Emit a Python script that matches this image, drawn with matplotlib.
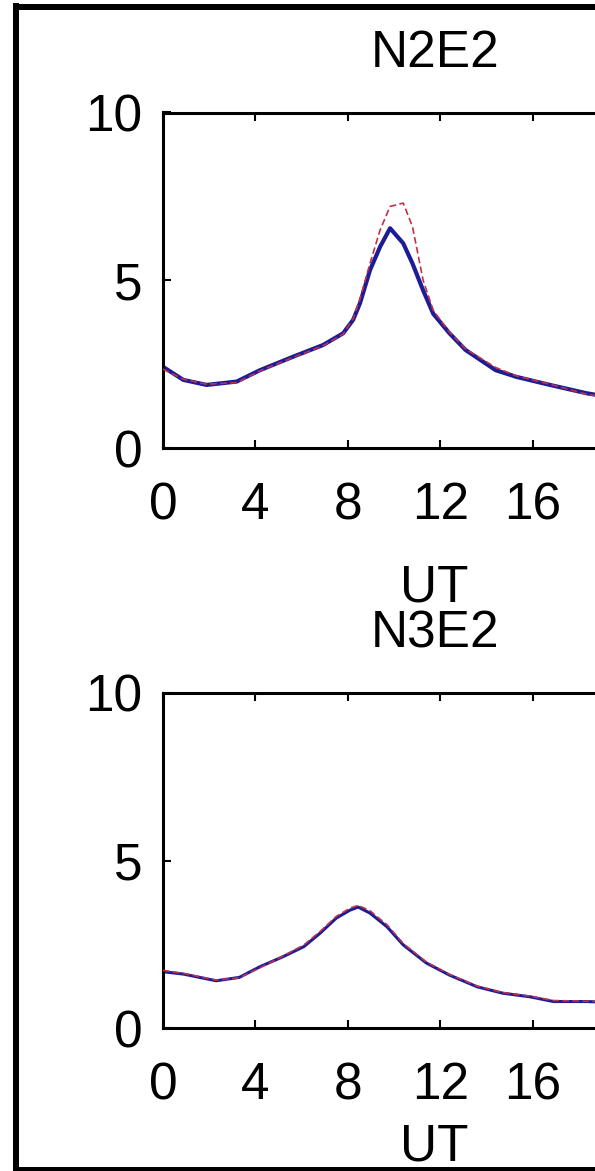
import matplotlib
matplotlib.use("Agg")
import matplotlib.pyplot as plt
from matplotlib.lines import Line2D

plt.rcParams['font.family'] = ['Liberation Sans', 'DejaVu Sans']

# ============== data ==============
# N2E2
ut_n2 = [0, 0.88, 1.89, 3.19, 4.2, 5.63, 6.93, 7.8, 8.23, 8.53, 8.96, 9.4,
         9.83, 10.4, 10.8, 11.26, 11.7, 12.4, 13.1, 14.4, 15.3, 16.75, 18.35, 19.5]
blue_n2 = [2.42, 2.03, 1.88, 1.98, 2.32, 2.72, 3.07, 3.42, 3.82, 4.32, 5.3, 6.0,
           6.55, 6.1, 5.5, 4.7, 4.0, 3.42, 2.92, 2.32, 2.12, 1.88, 1.63, 1.5]
red_n2 = [2.35, 2.05, 1.9, 1.95, 2.3, 2.7, 3.05, 3.4, 3.85, 4.45, 5.5, 6.5,
          7.2, 7.3, 6.6, 5.0, 4.1, 3.45, 2.95, 2.4, 2.15, 1.9, 1.6, 1.48]

# N3E2
ut_n3 = [0, 0.88, 2.3, 3.3, 4.2, 5.2, 6.1, 6.8, 7.5, 8.1, 8.45, 8.96, 9.7,
         10.4, 11.4, 12.4, 13.6, 14.7, 15.9, 16.9, 18.35, 19.5]
blue_n3 = [1.68, 1.61, 1.41, 1.51, 1.83, 2.13, 2.43, 2.83, 3.28, 3.52, 3.61, 3.43,
           3.02, 2.48, 1.94, 1.58, 1.23, 1.04, 0.93, 0.79, 0.79, 0.76]
red_n3 = [1.72, 1.63, 1.43, 1.5, 1.8, 2.15, 2.48, 2.88, 3.33, 3.58, 3.66, 3.5,
          3.08, 2.52, 1.97, 1.6, 1.25, 1.06, 0.95, 0.82, 0.8, 0.77]

xticks = [0, 4, 8, 12, 16]   # 20 and 24 fall outside the cropped picture
yticks = [0, 5, 10]
# =======================================================

W, H = 595, 1171
fig = plt.figure(figsize=(W / 100, H / 100), dpi=100)
fig.patch.set_facecolor('white')

FS = 37


def panel(top_px, bottom_px, x, blue, red, title, lwb, ut_pad):
	left_px, right_px = 163, 163 + 24 * 23.1
	ax = fig.add_axes([left_px / W, 1 - bottom_px / H,
	                   (right_px - left_px) / W, (bottom_px - top_px) / H])
	ax.plot(x, red, color='#c0304a', lw=1.2, ls=(0, (4, 2)), zorder=3)
	ax.plot(x, blue, color='#1c1c96', lw=lwb, zorder=2)
	ax.set_xlim(0, 24)
	ax.set_ylim(0, 10)
	ax.set_xticks(xticks)
	ax.set_yticks(yticks)
	ax.tick_params(direction='in', length=6, width=1.5, labelsize=FS,
	               top=True, right=True)
	ax.tick_params(axis='x', pad=24)
	ax.tick_params(axis='y', pad=15)
	for s in ax.spines.values():
		s.set_linewidth(2.2)
	ax.set_title(title, fontsize=FS, pad=33, x=0.49)
	ax.set_xlabel('UT', fontsize=FS, labelpad=ut_pad, x=0.49)
	return ax


panel(112.5, 448, ut_n2, blue_n2, red_n2, 'N2E2', 3.0, 24)
panel(693, 1028, ut_n3, blue_n3, red_n3, 'N3E2', 2.2, 9)

# thick frame (left, top, bottom edges; right side is cropped)
lw = 6 * 72 / 100
fig.add_artist(Line2D([15.5 / W, 15.5 / W], [0, 1 - 3 / H], color='black', lw=lw,
                      transform=fig.transFigure, solid_capstyle='butt'))
fig.add_artist(Line2D([12.5 / W, 1], [1 - 6.5 / H, 1 - 6.5 / H], color='black', lw=lw,
                      transform=fig.transFigure, solid_capstyle='butt'))
fig.add_artist(Line2D([12.5 / W, 1], [1 - 1168.5 / H, 1 - 1168.5 / H], color='black', lw=5 * 72 / 100,
                      transform=fig.transFigure, solid_capstyle='butt'))

fig.savefig('out.png', dpi=100)
